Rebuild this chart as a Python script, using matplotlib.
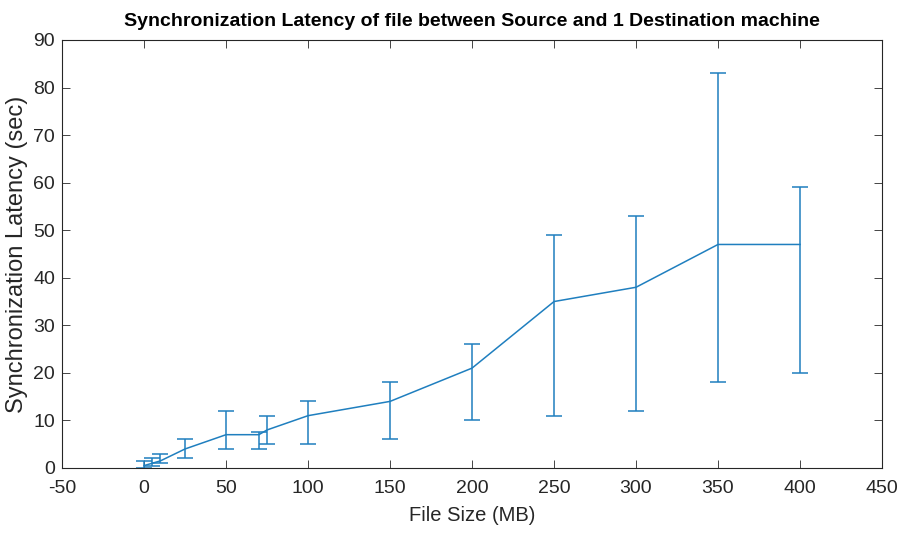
import matplotlib
matplotlib.use("Agg")
import matplotlib.pyplot as plt

# File sizes (MB) and synchronization latency statistics (sec)
file_size = [0, 5, 10, 25, 50, 70, 75, 100, 150, 200, 250, 300, 350, 400]
latency_mean = [0.5, 1, 1.5, 4, 7, 7, 8, 11, 14, 21, 35, 38, 47, 47]
latency_low = [0, 0.5, 1, 2, 4, 4, 5, 5, 6, 10, 11, 12, 18, 20]
latency_high = [1.5, 2, 3, 6, 12, 7.5, 11, 14, 18, 26, 49, 53, 83, 59]

x_ticks = [-50, 0, 50, 100, 150, 200, 250, 300, 350, 400, 450]
y_ticks = [0, 10, 20, 30, 40, 50, 60, 70, 80, 90]

plt.rcParams["axes.unicode_minus"] = False
font = "Liberation Sans"
color = "#1f7fbf"

fig = plt.figure(figsize=(9, 5.33), dpi=100)
ax = fig.add_axes([0.069, 0.122, 0.911, 0.803])

yerr = [[m - lo for m, lo in zip(latency_mean, latency_low)],
        [hi - m for m, hi in zip(latency_mean, latency_high)]]
ax.errorbar(file_size, latency_mean, yerr=yerr, color=color, lw=1.1,
            elinewidth=1.1, capsize=6, capthick=1.1)

ax.set_xlim(-50, 450)
ax.set_ylim(0, 90)
ax.set_xticks(x_ticks)
ax.set_yticks(y_ticks)
ax.tick_params(direction="in", top=True, right=True, length=6,
               width=0.6, colors="#262626", labelsize=14)
ax.tick_params(axis="x", pad=9)
ax.tick_params(axis="y", pad=5)
for lab in ax.get_xticklabels() + ax.get_yticklabels():
    lab.set_fontfamily(font)
for s in ax.spines.values():
    s.set_linewidth(0.8)
    s.set_color("#262626")

ax.set_xlabel("File Size (MB)", fontsize=14.5, family=font, color="#262626", labelpad=6)
ax.set_ylabel("Synchronization Latency (sec)", fontsize=17, family=font,
              color="#262626", labelpad=4)
ax.set_title("Synchronization Latency of file between Source and 1 Destination machine",
             fontsize=14, family=font, fontweight="bold", pad=10)

fig.savefig("out.png", dpi=100)
